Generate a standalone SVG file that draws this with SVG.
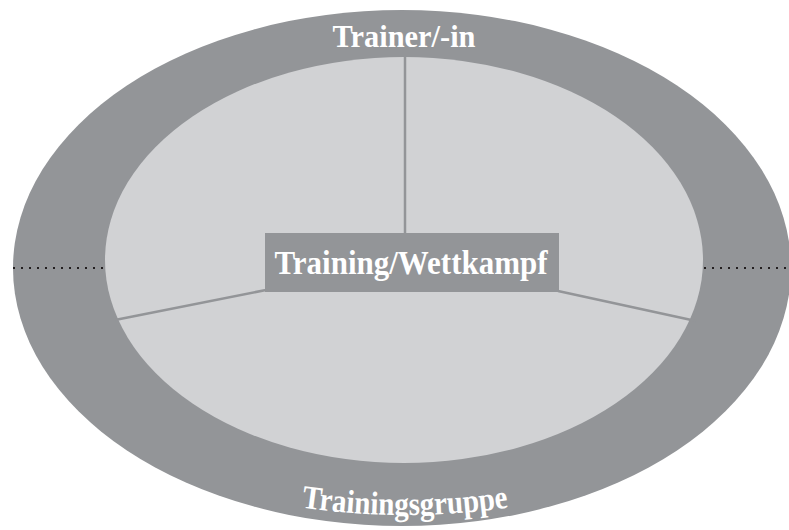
<svg xmlns="http://www.w3.org/2000/svg" xmlns:xlink="http://www.w3.org/1999/xlink" width="789" height="530" viewBox="0 0 789 530">
<style>
.outer{fill:#939598}
.inner{fill:#d1d2d4}
.div{stroke:#939598;stroke-width:2.5;fill:none}
.dots{stroke:#231f20;stroke-width:2;stroke-dasharray:2 6;fill:none}
.lbl{font-family:"Liberation Serif","Times New Roman",serif;font-weight:bold;fill:#ffffff}
</style>
<defs>
<path id="bottomArc" d="M 280 504 A 714 714 0 0 0 530 504"/>
</defs>
<rect width="789" height="530" fill="#ffffff"/>
<g id="outer-ring">
<ellipse class="outer" cx="402" cy="268" rx="389" ry="258"/>
</g>
<g id="inner-area">
<ellipse class="inner" cx="404" cy="260" rx="299" ry="203"/>
</g>
<g id="connectors">
<line class="div" x1="405" y1="57" x2="405" y2="234"/>
<line class="div" x1="266" y1="290" x2="115" y2="320"/>
<line class="div" x1="558" y1="291" x2="696" y2="321"/>
<line class="dots" x1="13" y1="268" x2="104" y2="268"/>
<line class="dots" x1="704" y1="268" x2="789" y2="268"/>
</g>
<g id="center-node">
<rect x="265" y="233" width="294" height="59" fill="#939598"/>
<text class="lbl" x="411" y="274" font-size="33" text-anchor="middle" textLength="273" lengthAdjust="spacingAndGlyphs">Training/Wettkampf</text>
</g>
<g id="trainer-label">
<text class="lbl" x="404" y="47" font-size="31" text-anchor="middle" textLength="143" lengthAdjust="spacingAndGlyphs">Trainer/-in</text>
</g>
<g id="gruppe-label">
<text class="lbl" font-size="33"><textPath xlink:href="#bottomArc" startOffset="50%" text-anchor="middle" textLength="208" lengthAdjust="spacingAndGlyphs">Trainingsgruppe</textPath></text>
</g>
</svg>
